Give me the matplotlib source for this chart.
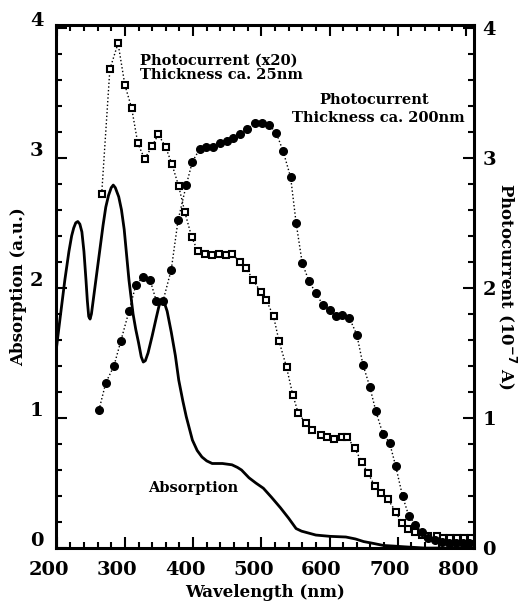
import numpy as np
import matplotlib.pyplot as plt
import matplotlib.transforms as mtransforms
from matplotlib.ticker import MultipleLocator

# absorption spectrum (solid line)
abs_wl = [200, 203, 207, 212, 218, 222, 225, 228, 231, 234, 237, 240, 243, 245, 247, 249, 251,
          255, 262, 268, 272, 276, 280, 283, 286, 291, 295, 299, 306, 312, 316, 320, 324, 327,
          330, 334, 340, 346, 350, 354, 357, 362, 368, 374, 379, 385, 390, 399, 406, 413, 420,
          428, 443, 457, 465, 471, 482, 492, 503, 515, 528, 540, 551, 559, 566, 580, 601, 624,
          638, 650, 665, 679, 695, 709, 740, 780, 810]
abs_val = [1.55, 1.68, 1.85, 2.06, 2.28, 2.40, 2.46, 2.50, 2.51, 2.49, 2.43, 2.28, 2.06, 1.90,
           1.78, 1.76, 1.80, 1.96, 2.24, 2.48, 2.62, 2.71, 2.77, 2.79, 2.77, 2.70, 2.60, 2.45,
           2.06, 1.80, 1.68, 1.58, 1.47, 1.43, 1.44, 1.50, 1.63, 1.77, 1.86, 1.91, 1.90, 1.82,
           1.66, 1.48, 1.29, 1.13, 1.01, 0.83, 0.75, 0.70, 0.67, 0.65, 0.65, 0.64, 0.62, 0.60,
           0.54, 0.50, 0.46, 0.39, 0.31, 0.23, 0.15, 0.13, 0.12, 0.10, 0.09, 0.085, 0.07, 0.05,
           0.035, 0.02, 0.015, 0.01, 0.0, 0.0, 0.0]

# photocurrent x20, thickness ca. 25nm (open squares)
thin_wl = [266, 278, 290, 300, 310, 319, 329, 340, 349, 360, 369, 379, 388, 398, 407, 418, 428,
           438, 448, 457, 469, 478, 488, 499, 507, 518, 526, 537, 546, 554, 565, 575, 587, 596,
           606, 618, 626, 637, 647, 656, 666, 676, 685, 697, 706, 715, 725, 735, 745, 757, 766,
           776, 787, 797, 807]
thin_val = [2.72, 3.68, 3.88, 3.56, 3.38, 3.11, 2.99, 3.09, 3.18, 3.08, 2.95, 2.78, 2.58, 2.39,
            2.28, 2.26, 2.25, 2.26, 2.25, 2.26, 2.20, 2.15, 2.06, 1.97, 1.91, 1.78, 1.59, 1.39,
            1.18, 1.04, 0.96, 0.91, 0.87, 0.85, 0.84, 0.85, 0.85, 0.77, 0.66, 0.58, 0.48, 0.42,
            0.38, 0.28, 0.19, 0.15, 0.12, 0.10, 0.09, 0.09, 0.08, 0.08, 0.08, 0.08, 0.08]

# photocurrent, thickness ca. 200nm (filled circles)
thick_wl = [262, 272, 284, 294, 306, 316, 326, 337, 346, 356, 368, 378, 390, 399, 410, 419, 429,
            440, 449, 459, 469, 479, 491, 501, 512, 522, 532, 543, 551, 560, 570, 580, 590, 600,
            609, 619, 629, 640, 649, 659, 668, 678, 688, 697, 707, 716, 726, 735, 745, 755, 765,
            775, 785, 795, 805]
thick_val = [1.06, 1.27, 1.40, 1.59, 1.82, 2.02, 2.08, 2.06, 1.90, 1.90, 2.14, 2.52, 2.79, 2.97,
             3.07, 3.08, 3.08, 3.11, 3.13, 3.15, 3.18, 3.22, 3.27, 3.27, 3.25, 3.19, 3.05, 2.85,
             2.50, 2.19, 2.05, 1.96, 1.87, 1.83, 1.78, 1.79, 1.77, 1.64, 1.41, 1.24, 1.05, 0.88,
             0.81, 0.63, 0.40, 0.25, 0.18, 0.12, 0.08, 0.06, 0.05, 0.04, 0.04, 0.04, 0.04]

plt.rcParams['font.family'] = 'DejaVu Serif'
plt.rcParams['font.weight'] = 'bold'

fig = plt.figure(figsize=(5.28, 6.11), dpi=100)
ax = fig.add_axes([0.106, 0.103, 0.792, 0.856])

ax.plot(abs_wl, abs_val, color='black', lw=2.0)
ax.plot(thin_wl, thin_val, ls=':', color='black', lw=1.0, marker='s', ms=5,
        mfc='white', mec='black', mew=1.5)
ax.plot(thick_wl, thick_val, ls=':', color='black', lw=1.0, marker='o', ms=5.5,
        mfc='black', mec='black')

ax.set_xlim(199, 812)
ax.set_ylim(0, 4.02)
ax.xaxis.set_major_locator(MultipleLocator(100))
ax.xaxis.set_minor_locator(MultipleLocator(20))
ax.yaxis.set_minor_locator(MultipleLocator(0.2))
ax.set_yticks([0, 1, 2, 3, 4])
ax.tick_params(which='both', direction='in', top=True, right=False, width=1.5)
ax.tick_params(which='major', length=8, labelsize=14, pad=9)
ax.tick_params(which='minor', length=4)
for s in ax.spines.values():
    s.set_linewidth(2.2)

ax2 = ax.twinx()
ax2.set_ylim(0, 4.02)
ax2.set_yticks([0, 1, 2, 3, 4])
ax2.yaxis.set_minor_locator(MultipleLocator(0.2))
ax2.tick_params(which='both', direction='in', width=1.5)
ax2.tick_params(which='major', length=8, labelsize=14, pad=6)
ax2.tick_params(which='minor', length=4)

# shift tick labels like the scanned original
off_x = mtransforms.ScaledTranslation(-8 / 100, 0, fig.dpi_scale_trans)
for lab in ax.get_xticklabels():
    lab.set_transform(lab.get_transform() + off_x)
off_y = mtransforms.ScaledTranslation(0, 9 / 100, fig.dpi_scale_trans)
for lab in ax.get_yticklabels():
    lab.set_transform(lab.get_transform() + off_y)

ax.set_xlabel('Wavelength (nm)', fontsize=12, fontweight='bold', labelpad=4)
ax.set_ylabel('Absorption (a.u.)', fontsize=12, fontweight='bold', labelpad=2)
ax2.set_ylabel('Photocurrent (10$^{\\mathbf{-7}}$ A)', fontsize=12, fontweight='bold',
               rotation=270, labelpad=16)

ax.text(0.20, 0.945, 'Photocurrent (x20)\nThickness ca. 25nm', transform=ax.transAxes,
        fontsize=10.5, fontweight='bold', va='top', ha='left', linespacing=1.0)
ax.text(0.76, 0.87, 'Photocurrent', transform=ax.transAxes,
        fontsize=10.5, fontweight='bold', va='top', ha='center')
ax.text(0.565, 0.835, 'Thickness ca. 200nm', transform=ax.transAxes,
        fontsize=10.5, fontweight='bold', va='top', ha='left')
ax.text(0.22, 0.115, 'Absorption', transform=ax.transAxes,
        fontsize=10.5, fontweight='bold', va='center', ha='left')

fig.savefig('out.png', dpi=100)
